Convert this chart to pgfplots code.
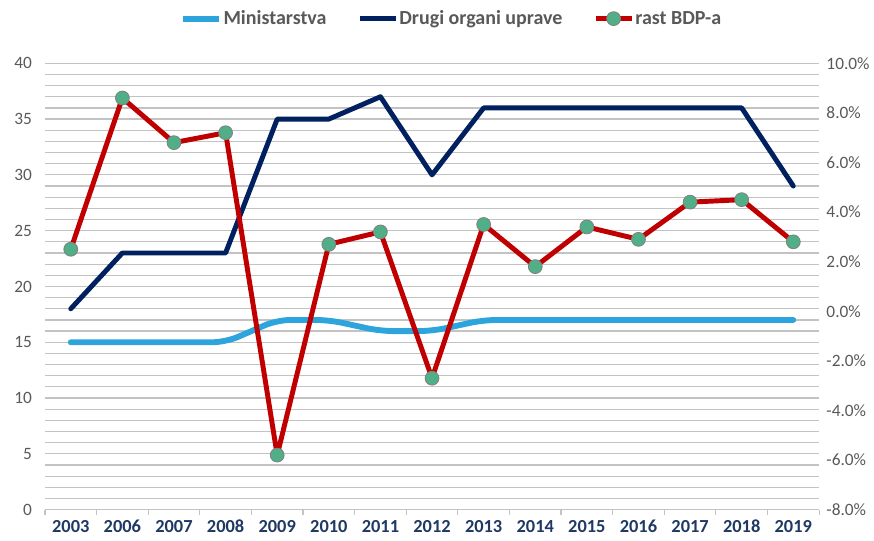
\documentclass[border=0pt]{standalone}
\usepackage{pgfplots}
\pgfplotsset{compat=1.18}
\usepackage{fontspec}
\setmainfont{Carlito}
\definecolor{cMin}{RGB}{45,165,220}
\definecolor{cDrugi}{RGB}{0,32,96}
\definecolor{cRast}{RGB}{192,0,0}
\definecolor{cMark}{RGB}{80,175,135}
\definecolor{cTick}{RGB}{89,89,89}
\definecolor{cX}{RGB}{31,56,100}
\definecolor{cGrid}{RGB}{195,195,195}
\begin{document}
\begin{tikzpicture}
\pgfplotsset{
  common/.style={
    scale only axis, width=581pt, height=335pt,
    at={(0,0)}, anchor=south west,
    xmin=-0.5, xmax=14.5,
    /pgf/number format/assume math mode=true,
    tick label style={font=\fontsize{13}{15}\selectfont, text=cTick},
  }
}
\begin{axis}[common,
  axis y line*=left, axis x line*=bottom,
  ymin=0, ymax=40, ytick={0,5,...,40},
  minor y tick num=4,
  ymajorgrids, yminorgrids,
  major grid style={cGrid, line width=0.9pt},
  minor grid style={cGrid, line width=0.9pt},
  y axis line style={draw=none},
  x axis line style={cGrid, line width=0.9pt},
  ytick style={draw=none}, minor y tick style={draw=none},
  xtick={0,...,14},
  xticklabels={2003,2006,2007,2008,2009,2010,2011,2012,2013,2014,2015,2016,2017,2018,2019},
  xticklabel style={font=\fontsize{13.8}{15}\selectfont\bfseries, text=cX},
  major x tick style={draw=none},
  minor xtick={-0.5,0.5,...,14.5},
  minor x tick style={cGrid, line width=0.9pt},
  tick align=outside, minor tick length=4pt,
  yticklabel style={xshift=-2pt},
]
\addplot[cMin, line width=4.4pt, line join=round, line cap=round, rounded corners=10pt] coordinates {
 (0,15) (1,15) (2,15) (3,15) (4,17) (5,17) (6,16) (7,16) (8,17) (9,17) (10,17) (11,17) (12,17) (13,17) (14,17)};
\addplot[cDrugi, line width=3.7pt, line join=round, line cap=round] coordinates {
 (0,18) (1,23) (2,23) (3,23) (4,35) (5,35) (6,37) (7,30) (8,36) (9,36) (10,36) (11,36) (12,36) (13,36) (14,29)};
\end{axis}
\begin{axis}[common,
  axis y line*=right, axis x line=none,
  ymin=-8, ymax=10, ytick={-8,-6,...,10},
  y axis line style={draw=none}, ytick style={draw=none},
  yticklabel={\pgfmathprintnumber[fixed,fixed zerofill,precision=1]{\tick}\%},
  yticklabel style={xshift=2pt},
  legend style={at={(axis description cs:0.525,1.1)}, anchor=center, draw=none, fill=none,
    font=\fontsize{15}{17}\selectfont\bfseries, text=cTick,
    nodes={inner xsep=1pt},
    /tikz/every even column/.append style={column sep=22pt}},
  legend columns=3,
  legend image code/.code={\draw[#1] (0cm,0cm) -- (0.95cm,0cm); \draw[#1, only marks] plot coordinates {(0.475cm,0cm)};},
]
\addlegendimage{cMin, line width=4.4pt, mark=none}
\addlegendentry{Ministarstva}
\addlegendimage{cDrugi, line width=3.7pt, mark=none}
\addlegendentry{Drugi organi uprave}
\addplot[cRast, line width=3.7pt, line join=round, mark=*, mark size=5.2pt,
  mark options={fill=cMark, draw=gray, line width=0.6pt}] coordinates {
 (0,2.5) (1,8.6) (2,6.8) (3,7.2) (4,-5.8) (5,2.7) (6,3.2) (7,-2.7) (8,3.5) (9,1.8) (10,3.4) (11,2.9) (12,4.4) (13,4.5) (14,2.8)};
\addlegendentry{rast BDP-a}
\end{axis}
\path[use as bounding box] (-33.75pt,-23.25pt) rectangle (621.75pt,382.5pt);
\end{tikzpicture}
\end{document}
